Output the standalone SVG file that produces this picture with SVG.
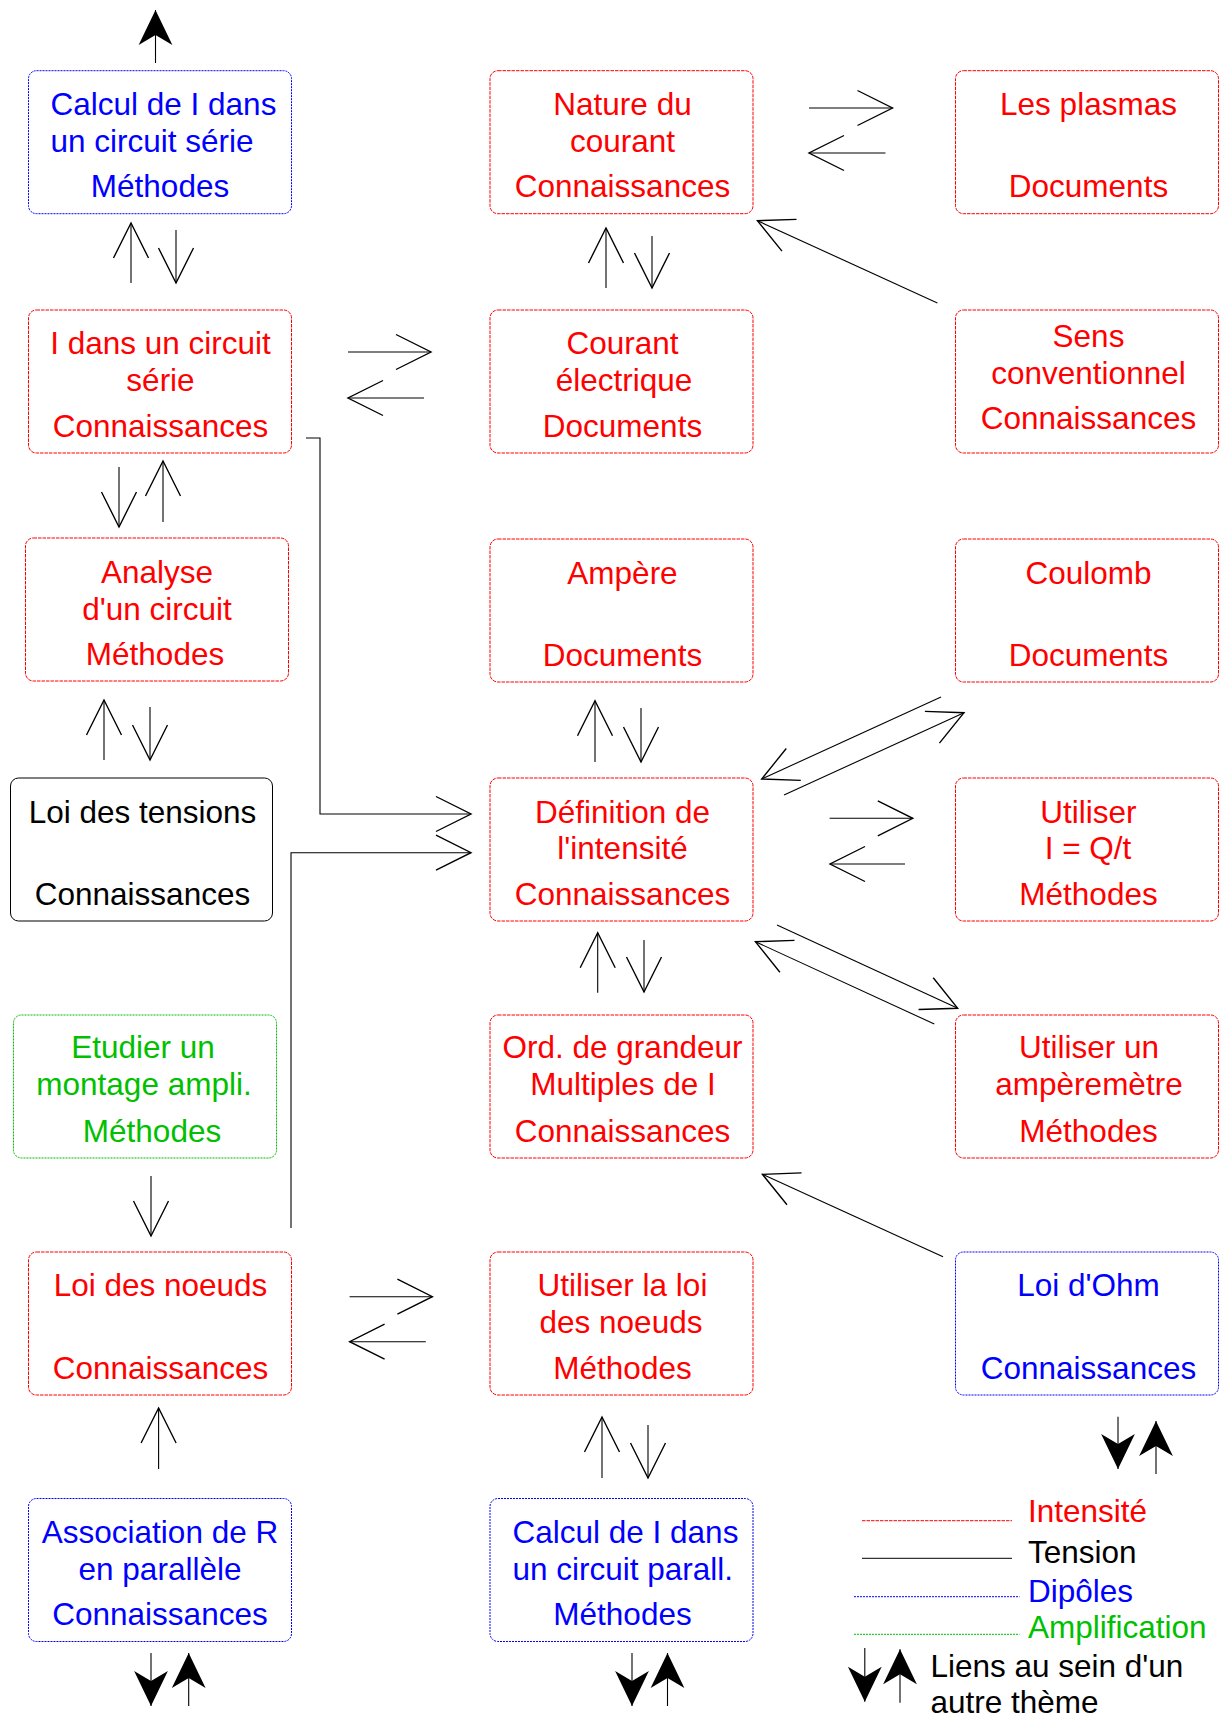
<svg xmlns="http://www.w3.org/2000/svg" width="1228" height="1717" viewBox="0 0 1228 1717">
<style>
text{font-family:"Liberation Sans",Arial,sans-serif;font-size:31.5px}
.m{text-anchor:middle}
.r{fill:#ff0000}.b{fill:#0000ff}.g{fill:#00c000}.k{fill:#000}
.bx{fill:#fff;stroke-width:1}
.br{stroke:#ff0000;stroke-dasharray:3.5 1}
.bb{stroke:#0000ff;stroke-dasharray:2 1}
.bg{stroke:#00c000;stroke-dasharray:2 1}
.bk{stroke:#000}
.c{fill:none;stroke:#000;stroke-width:1.1}
.o{marker-end:url(#open)}
.f{marker-end:url(#fill)}
</style>
<defs>
<marker id="open" markerUnits="userSpaceOnUse" markerWidth="40" markerHeight="40" viewBox="-30 -16 32 32" refX="0" refY="0" orient="auto">
<path d="M-28,-14 L0,0 L-28,14" fill="none" stroke="#000" stroke-width="1.1"/>
</marker>
<marker id="fill" markerUnits="userSpaceOnUse" markerWidth="40" markerHeight="40" viewBox="-30 -16 32 32" refX="0" refY="0" orient="auto">
<path d="M0,0 L-28,-13.5 L-20,0 L-28,13.5 Z" fill="#000"/>
</marker>
</defs>

<g id="n1"><rect class="bx bb" x="28.5" y="70.7" width="263" height="143" rx="8"/>
<text class="b" x="50.5" y="115">Calcul de I dans</text><text class="b" x="50.5" y="152">un circuit série</text><text class="b m" x="160" y="197">Méthodes</text></g>
<g id="n2"><rect class="bx br" x="28.5" y="310" width="263" height="143" rx="8"/>
<text class="r m" x="160.5" y="354">I dans un circuit</text><text class="r m" x="160.5" y="391">série</text><text class="r m" x="160.5" y="436.5">Connaissances</text></g>
<g id="n3"><rect class="bx br" x="25.5" y="538" width="263" height="143" rx="8"/>
<text class="r m" x="157" y="583">Analyse</text><text class="r m" x="157" y="620">d'un circuit</text><text class="r m" x="155" y="665">Méthodes</text></g>
<g id="n4"><rect class="bx bk" x="10.5" y="778" width="262" height="143" rx="8"/>
<text class="k m" x="142.5" y="823">Loi des tensions</text><text class="k m" x="142.5" y="905">Connaissances</text></g>
<g id="n5"><rect class="bx bg" x="13.5" y="1015" width="263" height="143" rx="8"/>
<text class="g m" x="143" y="1058">Etudier un</text><text class="g m" x="144" y="1095">montage ampli.</text><text class="g m" x="152" y="1141.5">Méthodes</text></g>
<g id="n6"><rect class="bx br" x="28.5" y="1252" width="263" height="143" rx="8"/>
<text class="r m" x="160.5" y="1296">Loi des noeuds</text><text class="r m" x="160.5" y="1378.5">Connaissances</text></g>
<g id="n7"><rect class="bx bb" x="28.5" y="1498.5" width="263" height="143" rx="8"/>
<text class="b m" x="160" y="1542.5">Association de R</text><text class="b m" x="160" y="1579.5">en parallèle</text><text class="b m" x="160" y="1625">Connaissances</text></g>

<g id="n8"><rect class="bx br" x="490" y="70.7" width="263" height="143" rx="8"/>
<text class="r m" x="622.5" y="115">Nature du</text><text class="r m" x="622.5" y="152">courant</text><text class="r m" x="622.5" y="197">Connaissances</text></g>
<g id="n9"><rect class="bx br" x="490" y="310" width="263" height="143" rx="8"/>
<text class="r m" x="622.5" y="354">Courant</text><text class="r m" x="624" y="391">électrique</text><text class="r m" x="622.5" y="436.5">Documents</text></g>
<g id="n10"><rect class="bx br" x="490" y="539" width="263" height="143" rx="8"/>
<text class="r m" x="622.5" y="584">Ampère</text><text class="r m" x="622.5" y="666">Documents</text></g>
<g id="n11"><rect class="bx br" x="490" y="778" width="263" height="143" rx="8"/>
<text class="r m" x="622.5" y="823">Définition de</text><text class="r m" x="622.5" y="859">l'intensité</text><text class="r m" x="622.5" y="905">Connaissances</text></g>
<g id="n12"><rect class="bx br" x="490" y="1015" width="263" height="143" rx="8"/>
<text class="r m" x="622.5" y="1058">Ord. de grandeur</text><text class="r m" x="623" y="1095">Multiples de I</text><text class="r m" x="622.5" y="1141.5">Connaissances</text></g>
<g id="n13"><rect class="bx br" x="490" y="1252" width="263" height="143" rx="8"/>
<text class="r m" x="622.5" y="1296">Utiliser la loi</text><text class="r m" x="621" y="1333">des noeuds</text><text class="r m" x="622.5" y="1378.5">Méthodes</text></g>
<g id="n14"><rect class="bx bb" x="490" y="1498.5" width="263" height="143" rx="8"/>
<text class="b" x="512.5" y="1542.5">Calcul de I dans</text><text class="b" x="512.5" y="1579.5">un circuit parall.</text><text class="b m" x="622.5" y="1625">Méthodes</text></g>

<g id="n15"><rect class="bx br" x="955.5" y="70.7" width="263" height="143" rx="8"/>
<text class="r m" x="1088.5" y="115">Les plasmas</text><text class="r m" x="1088.5" y="197">Documents</text></g>
<g id="n16"><rect class="bx br" x="955.5" y="310" width="263" height="143" rx="8"/>
<text class="r m" x="1088.5" y="347">Sens</text><text class="r m" x="1088.5" y="384">conventionnel</text><text class="r m" x="1088.5" y="429">Connaissances</text></g>
<g id="n17"><rect class="bx br" x="955.5" y="539" width="263" height="143" rx="8"/>
<text class="r m" x="1088.5" y="584">Coulomb</text><text class="r m" x="1088.5" y="666">Documents</text></g>
<g id="n18"><rect class="bx br" x="955.5" y="778" width="263" height="143" rx="8"/>
<text class="r m" x="1088.5" y="823">Utiliser</text><text class="r m" x="1088" y="859">I = Q/t</text><text class="r m" x="1088.5" y="905">Méthodes</text></g>
<g id="n19"><rect class="bx br" x="955.5" y="1015" width="263" height="143" rx="8"/>
<text class="r m" x="1089" y="1058">Utiliser un</text><text class="r m" x="1089" y="1095">ampèremètre</text><text class="r m" x="1088.5" y="1141.5">Méthodes</text></g>
<g id="n20"><rect class="bx bb" x="955.5" y="1252" width="263" height="143" rx="8"/>
<text class="b m" x="1088.5" y="1296">Loi d'Ohm</text><text class="b m" x="1088.5" y="1378.5">Connaissances</text></g>

<g id="connectors">
<path class="c f" d="M155.5,63 V10"/>
<path class="c o" d="M131,283 V223"/>
<path class="c o" d="M176,230 V283"/>
<path class="c o" d="M348,352 H431"/>
<path class="c o" d="M424,398 H348"/>
<path class="c o" d="M306,438 H320 V814 H471"/>
<path class="c o" d="M291,1228 V852.7 H471"/>
<path class="c o" d="M119,467 V527"/>
<path class="c o" d="M163,522 V461"/>
<path class="c o" d="M104,760 V700"/>
<path class="c o" d="M150,707 V760"/>
<path class="c o" d="M151,1176 V1236"/>
<path class="c o" d="M349.6,1296.7 H432.4"/>
<path class="c o" d="M425.8,1341.7 H349.6"/>
<path class="c o" d="M158.6,1469 V1408"/>
<path class="c f" d="M151,1653 V1706"/>
<path class="c f" d="M188.7,1706 V1653"/>
<path class="c o" d="M809,108 H892.5"/>
<path class="c o" d="M885.5,153 H809"/>
<path class="c o" d="M937.4,303 L757.4,220.7"/>
<path class="c o" d="M606,288 V228"/>
<path class="c o" d="M652,236 V288"/>
<path class="c o" d="M595,762 V700.7"/>
<path class="c o" d="M641,708 V762"/>
<path class="c o" d="M941,697 L761.7,779"/>
<path class="c o" d="M784,795 L964,712.7"/>
<path class="c o" d="M829.6,818.3 H912.8"/>
<path class="c o" d="M905,864 H830"/>
<path class="c o" d="M597.7,992.7 V932.7"/>
<path class="c o" d="M644,940 V992"/>
<path class="c o" d="M777,925 L957.7,1008.3"/>
<path class="c o" d="M934.3,1024 L755.4,941.7"/>
<path class="c o" d="M943,1256.7 L762.4,1174.3"/>
<path class="c o" d="M602,1478 V1417"/>
<path class="c o" d="M648,1425 V1478"/>
<path class="c f" d="M632,1653 V1706"/>
<path class="c f" d="M667.5,1706 V1653"/>
<path class="c f" d="M1118,1416.7 V1469"/>
<path class="c f" d="M1156,1474 V1421"/>
</g>

<g id="legend">
<line x1="862" y1="1520.7" x2="1012" y2="1520.7" stroke="#ff0000" stroke-width="1" stroke-dasharray="3.5 1"/>
<text class="r" x="1028" y="1521.7">Intensité</text>
<line x1="862" y1="1558.3" x2="1012" y2="1558.3" stroke="#000" stroke-width="1"/>
<text class="k" x="1028" y="1562.7">Tension</text>
<line x1="854" y1="1596.7" x2="1019.5" y2="1596.7" stroke="#0000ff" stroke-width="1" stroke-dasharray="2 1"/>
<text class="b" x="1028" y="1601.7">Dipôles</text>
<line x1="854" y1="1634.3" x2="1019.5" y2="1634.3" stroke="#00c000" stroke-width="1" stroke-dasharray="2 1"/>
<text class="g" x="1028" y="1637.7">Amplification</text>
<path class="c f" d="M864.8,1648 V1701.7"/>
<path class="c f" d="M900,1702.7 V1649.3"/>
<text class="k" x="930.4" y="1676.7">Liens au sein d'un</text>
<text class="k" x="930.4" y="1712.7">autre thème</text>
</g>
</svg>
